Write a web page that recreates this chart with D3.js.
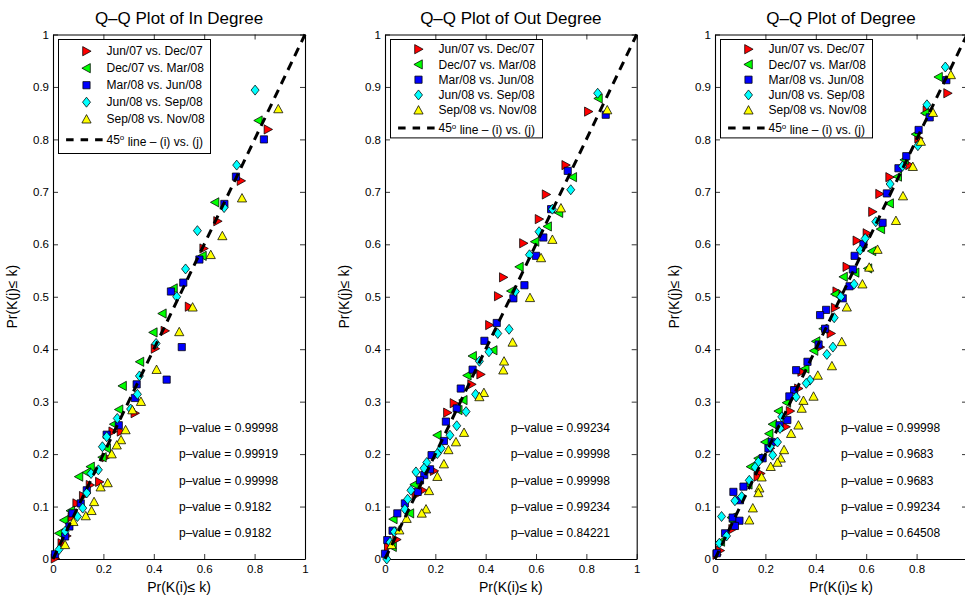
<!DOCTYPE html>
<html><head><meta charset="utf-8">
<script src="https://cdn.jsdelivr.net/npm/d3@7/dist/d3.min.js"></script>
<style>
body{margin:0;background:#fff}
svg{display:block}
text{font-family:"Liberation Sans",Arial,Helvetica,sans-serif;fill:#000}
</style>
</head><body>
<svg id="chart" width="965" height="599"></svg>
<script>
// ---------------- data ----------------
const titles = ["Q–Q Plot of In Degree", "Q–Q Plot of Out Degree", "Q–Q Plot of Degree"];
const seriesNames = ["Jun/07 vs. Dec/07", "Dec/07 vs. Mar/08", "Mar/08 vs. Jun/08", "Jun/08 vs. Sep/08", "Sep/08 vs. Nov/08"];
const lineLabel = ["45", "o", " line – (i) vs. (j)"];
const xTicks = [0, 0.2, 0.4, 0.6, 0.8, 1];
const xTickLabels = ["0", "0.2", "0.4", "0.6", "0.8", "1"];
const yTicks = [0, 0.1, 0.2, 0.3, 0.4, 0.5, 0.6, 0.7, 0.8, 0.9, 1];
const yTickLabels = ["0", "0.1", "0.2", "0.3", "0.4", "0.5", "0.6", "0.7", "0.8", "0.9", "1"];
const xLabel = "Pr(K(i)≤ k)";
const yLabel = "Pr(K(j)≤ k)";
const pValuesIn = ["0.99998", "0.99919", "0.99998", "0.9182", "0.9182"];
const pValuesOut = ["0.99234", "0.99998", "0.99998", "0.99234", "0.84221"];
const pValuesDeg = ["0.99998", "0.9683", "0.9683", "0.99234", "0.64508"];
const pValueY = [0.25, 0.2, 0.15, 0.1, 0.05];
const pValueX = 0.5;

// In Degree
const inRed = [[0.853,0.819],[0.746,0.721],[0.653,0.644],[0.598,0.592],[0.540,0.481],[0.444,0.435],[0.405,0.401],[0.325,0.278],[0.270,0.243],[0.237,0.243],[0.210,0.194],[0.184,0.147],[0.147,0.141],[0.120,0.120],[0.094,0.106],[0.075,0.080],[0.054,0.044],[0.035,0.030],[0.008,0.001]];
const inGreen = [[0.815,0.836],[0.643,0.680],[0.593,0.578],[0.478,0.516],[0.434,0.468],[0.398,0.432],[0.345,0.376],[0.276,0.330],[0.262,0.285],[0.242,0.257],[0.213,0.211],[0.196,0.194],[0.149,0.176],[0.134,0.165],[0.103,0.157],[0.070,0.092],[0.044,0.074],[0.024,0.049]];
const inBlue = [[0.837,0.800],[0.726,0.729],[0.680,0.677],[0.581,0.571],[0.517,0.527],[0.468,0.510],[0.511,0.404],[0.451,0.342],[0.332,0.333],[0.325,0.307],[0.261,0.255],[0.213,0.237],[0.134,0.131],[0.110,0.106],[0.077,0.087],[0.065,0.062],[0.048,0.043],[0.008,0.009]];
const inCyan = [[0.802,0.894],[0.729,0.751],[0.679,0.670],[0.573,0.626],[0.526,0.553],[0.491,0.500],[0.409,0.411],[0.343,0.349],[0.335,0.314],[0.308,0.286],[0.255,0.268],[0.213,0.233],[0.196,0.214],[0.180,0.170],[0.151,0.163],[0.134,0.126],[0.118,0.097],[0.097,0.081],[0.048,0.053],[0.024,0.018]];
const inYellow = [[0.894,0.858],[0.750,0.688],[0.672,0.616],[0.626,0.580],[0.554,0.480],[0.501,0.433],[0.411,0.361],[0.349,0.300],[0.315,0.284],[0.288,0.246],[0.270,0.227],[0.253,0.217],[0.233,0.200],[0.217,0.145],[0.189,0.137],[0.163,0.109],[0.153,0.092],[0.130,0.082],[0.081,0.071],[0.048,0.027]];

// Out Degree
const outRed = [[0.808,0.853],[0.718,0.751],[0.640,0.695],[0.612,0.648],[0.550,0.602],[0.470,0.537],[0.450,0.501],[0.415,0.446],[0.380,0.352],[0.344,0.333],[0.274,0.297],[0.248,0.279],[0.195,0.168],[0.150,0.131],[0.123,0.122],[0.046,0.037],[0.013,0.023]];
const outGreen = [[0.848,0.878],[0.746,0.728],[0.691,0.660],[0.646,0.634],[0.596,0.605],[0.534,0.557],[0.501,0.511],[0.430,0.398],[0.348,0.387],[0.327,0.350],[0.311,0.303],[0.291,0.284],[0.208,0.236],[0.117,0.142],[0.099,0.087],[0.033,0.076],[0.030,0.023]];
const outBlue = [[0.877,0.847],[0.726,0.740],[0.660,0.667],[0.629,0.613],[0.600,0.578],[0.554,0.522],[0.510,0.497],[0.444,0.450],[0.395,0.416],[0.348,0.361],[0.301,0.325],[0.285,0.287],[0.242,0.262],[0.234,0.225],[0.185,0.198],[0.179,0.171],[0.156,0.160],[0.139,0.150],[0.130,0.128],[0.079,0.106],[0.049,0.087],[0.030,0.054],[0.009,0.036],[0.000,0.010]];
const outCyan = [[0.845,0.888],[0.738,0.704],[0.665,0.667],[0.612,0.624],[0.574,0.580],[0.518,0.510],[0.493,0.438],[0.448,0.430],[0.413,0.395],[0.375,0.377],[0.360,0.314],[0.322,0.281],[0.285,0.254],[0.258,0.236],[0.223,0.211],[0.208,0.201],[0.166,0.184],[0.155,0.173],[0.123,0.166],[0.103,0.131],[0.090,0.114],[0.079,0.095],[0.037,0.052],[0.020,0.032],[0.007,0.000]];
const outYellow = [[0.883,0.856],[0.699,0.669],[0.665,0.609],[0.620,0.574],[0.576,0.498],[0.507,0.413],[0.473,0.377],[0.470,0.360],[0.393,0.317],[0.375,0.309],[0.314,0.241],[0.282,0.223],[0.252,0.208],[0.234,0.181],[0.208,0.157],[0.175,0.130],[0.163,0.095],[0.146,0.087],[0.086,0.077],[0.057,0.055],[0.026,0.027]];

// Degree
const degRed = [[0.923,0.888],[0.841,0.855],[0.808,0.802],[0.772,0.751],[0.693,0.728],[0.653,0.696],[0.625,0.662],[0.603,0.621],[0.563,0.607],[0.523,0.557],[0.483,0.510],[0.477,0.479],[0.460,0.430],[0.417,0.404],[0.344,0.357],[0.331,0.325],[0.298,0.282],[0.281,0.252],[0.219,0.211],[0.181,0.163],[0.170,0.157],[0.070,0.057],[0.020,0.016],[0.007,0.008]];
const degGreen = [[0.887,0.919],[0.834,0.850],[0.797,0.810],[0.752,0.761],[0.725,0.729],[0.693,0.678],[0.658,0.629],[0.623,0.587],[0.607,0.554],[0.556,0.546],[0.510,0.538],[0.477,0.505],[0.430,0.439],[0.401,0.415],[0.393,0.397],[0.358,0.363],[0.285,0.298],[0.252,0.282],[0.229,0.257],[0.215,0.239],[0.199,0.223],[0.172,0.192],[0.142,0.176],[0.132,0.142],[0.073,0.071],[0.066,0.079],[0.023,0.033]];
const degBlue = [[0.918,0.913],[0.852,0.842],[0.808,0.818],[0.759,0.768],[0.728,0.745],[0.682,0.697],[0.665,0.641],[0.589,0.600],[0.554,0.578],[0.547,0.552],[0.534,0.520],[0.507,0.497],[0.441,0.475],[0.417,0.465],[0.437,0.439],[0.411,0.409],[0.367,0.376],[0.322,0.360],[0.314,0.322],[0.295,0.310],[0.287,0.265],[0.256,0.255],[0.225,0.223],[0.212,0.211],[0.189,0.192],[0.113,0.138],[0.073,0.128],[0.099,0.112],[0.070,0.079],[0.097,0.073],[0.079,0.063],[0.040,0.049],[0.007,0.011]];
const degCyan = [[0.914,0.938],[0.841,0.866],[0.805,0.788],[0.744,0.749],[0.695,0.715],[0.638,0.643],[0.596,0.611],[0.576,0.589],[0.552,0.524],[0.499,0.500],[0.473,0.460],[0.468,0.404],[0.444,0.390],[0.377,0.341],[0.362,0.335],[0.322,0.309],[0.265,0.271],[0.258,0.249],[0.248,0.223],[0.229,0.198],[0.219,0.214],[0.172,0.185],[0.159,0.175],[0.136,0.150],[0.106,0.119],[0.079,0.111],[0.046,0.044],[0.026,0.081],[0.017,0.030]];
const degYellow = [[0.936,0.923],[0.865,0.851],[0.817,0.796],[0.785,0.748],[0.746,0.692],[0.718,0.645],[0.645,0.590],[0.612,0.556],[0.585,0.524],[0.523,0.480],[0.503,0.414],[0.464,0.368],[0.408,0.350],[0.391,0.310],[0.351,0.302],[0.344,0.287],[0.331,0.255],[0.302,0.239],[0.274,0.208],[0.261,0.192],[0.248,0.184],[0.221,0.176],[0.185,0.156],[0.176,0.135],[0.172,0.126],[0.150,0.097],[0.136,0.074]];

// ---------------- styles / layout ----------------
const seriesColors = ["#ff0000", "#00ff00", "#0000ff", "#00ffff", "#ffff00"];
const seriesShapes = ["triRight", "triLeft", "square", "diamond", "triUp"];
const svgWidth = 965;

const panels = [
  {left: 53,  width: 252, title: titles[0], series: [inRed, inGreen, inBlue, inCyan, inYellow], p: pValuesIn,
   leg: {h: 114, first: 11.7, step: 17, lastGap: 20.5}},
  {left: 385, width: 251.7, title: titles[1], series: [outRed, outGreen, outBlue, outCyan, outYellow], p: pValuesOut,
   leg: {h: 98.4, first: 9.7, step: 15.25, lastGap: 17.7}},
  {left: 715, width: 252, title: titles[2], series: [degRed, degGreen, degBlue, degCyan, degYellow], p: pValuesDeg,
   leg: {h: 98.4, first: 9.7, step: 15.25, lastGap: 17.7}}
];
const plotTop = 34.5, plotBottom = 559;

function markerPath(shape, cx, cy) {
  const r = 4.6;
  switch (shape) {
    case "triRight": return `M${cx+r},${cy}L${cx-3.8},${cy-r}L${cx-3.8},${cy+r}Z`;
    case "triLeft":  return `M${cx-r},${cy}L${cx+3.8},${cy-r}L${cx+3.8},${cy+r}Z`;
    case "triUp":    return `M${cx},${cy-r}L${cx+r},${cy+3.8}L${cx-r},${cy+3.8}Z`;
    case "square":   return `M${cx-3.6},${cy-3.6}h7.2v7.2h-7.2Z`;
    case "diamond":  return `M${cx},${cy-5}L${cx+4},${cy}L${cx},${cy+5}L${cx-4},${cy}Z`;
  }
}

const svg = d3.select("#chart");

panels.forEach((P, pi) => {
  const x = d3.scaleLinear().domain([0, 1]).range([P.left, P.left + P.width]);
  const y = d3.scaleLinear().domain([0, 1]).range([plotBottom, plotTop]);
  const g = svg.append("g");

  g.append("text").attr("x", (x(0) + x(1)) / 2).attr("y", 24)
    .attr("text-anchor", "middle").style("font-size", "17px").text(P.title);

  // x tick labels that would fall off the window are not shown (as in the reference)
  const visibleXTicks = xTicks.filter(v => x(v) + 6 <= svgWidth);

  const ax = g.append("g").attr("class", "axes");
  const bottomAxis = d3.axisBottom(x).tickValues(xTicks)
    .tickFormat((d, i) => visibleXTicks.includes(d) ? xTickLabels[i] : "")
    .tickSizeInner(-5).tickSizeOuter(0).tickPadding(6);
  const topAxis = d3.axisTop(x).tickValues(xTicks).tickFormat("").tickSizeInner(-5).tickSizeOuter(0);
  const leftAxis = d3.axisLeft(y).tickValues(yTicks).tickFormat((d, i) => yTickLabels[i])
    .tickSizeInner(-5).tickSizeOuter(0).tickPadding(4);
  const rightAxis = d3.axisRight(y).tickValues(yTicks).tickFormat("").tickSizeInner(-5).tickSizeOuter(0);

  ax.append("g").attr("transform", `translate(0,${plotBottom})`).call(bottomAxis);
  ax.append("g").attr("transform", `translate(0,${plotTop})`).call(topAxis);
  ax.append("g").attr("transform", `translate(${x(0)},0)`).call(leftAxis);
  ax.append("g").attr("transform", `translate(${x(1)},0)`).call(rightAxis);
  ax.selectAll("path.domain").attr("stroke", "#000").attr("stroke-width", 1.1);
  ax.selectAll(".tick line").attr("stroke", "#000").attr("stroke-width", 0.8);
  ax.selectAll(".tick text").attr("fill", "#000")
    .style("font-family", '"Liberation Sans",Arial,sans-serif').style("font-size", "11.5px");
  ax.selectAll(".tick text").filter(function(){ return this.textContent === ""; }).remove();

  g.append("text").attr("x", (x(0) + x(1)) / 2).attr("y", 592)
    .attr("text-anchor", "middle").style("font-size", "14px").text(xLabel);
  g.append("text").attr("transform", `translate(${x(0) - 41},${(plotTop + plotBottom) / 2}) rotate(-90)`)
    .attr("text-anchor", "middle").attr("dy", "0.35em").style("font-size", "14px").text(yLabel);

  P.series.forEach((pts, si) => {
    g.append("g").selectAll("path").data(pts).join("path")
      .attr("d", d => markerPath(seriesShapes[si], x(d[0]), y(d[1])))
      .attr("fill", seriesColors[si]).attr("stroke", "#000").attr("stroke-width", 0.75);
  });

  g.append("line").attr("x1", x(0)).attr("y1", y(0)).attr("x2", x(1)).attr("y2", y(1))
    .attr("stroke", "#000").attr("stroke-width", 3).attr("stroke-dasharray", "9,6.5");

  P.p.forEach((v, i) => {
    g.append("text").attr("x", x(pValueX)).attr("y", y(pValueY[i])).attr("dy", "0.35em")
      .style("font-size", "12px").text("p–value = " + v);
  });

  const L = P.leg;
  const lx = x(0) + 5.5, ly = 39.5;
  const lg = g.append("g");
  lg.append("rect").attr("x", lx).attr("y", ly).attr("width", 152).attr("height", L.h)
    .attr("fill", "#fff").attr("stroke", "#000").attr("stroke-width", 1);
  seriesNames.forEach((name, si) => {
    const ry = ly + L.first + si * L.step;
    lg.append("path").attr("d", markerPath(seriesShapes[si], lx + 28, ry))
      .attr("fill", seriesColors[si]).attr("stroke", "#000").attr("stroke-width", 0.75);
    lg.append("text").attr("x", lx + 48).attr("y", ry).attr("dy", "0.35em")
      .style("font-size", "12px").text(name);
  });
  const ry = ly + L.first + 4 * L.step + L.lastGap;
  lg.append("line").attr("x1", lx + 7.6).attr("x2", lx + 44.5).attr("y1", ry).attr("y2", ry)
    .attr("stroke", "#000").attr("stroke-width", 3).attr("stroke-dasharray", "7.5,7");
  const t = lg.append("text").attr("x", lx + 48).attr("y", ry).attr("dy", "0.35em").style("font-size", "12px");
  t.append("tspan").text(lineLabel[0]);
  t.append("tspan").attr("dy", "-0.45em").style("font-size", "8px").text(lineLabel[1]);
  t.append("tspan").attr("dy", "0.45em").text(lineLabel[2]);
});
</script>
</body></html>
